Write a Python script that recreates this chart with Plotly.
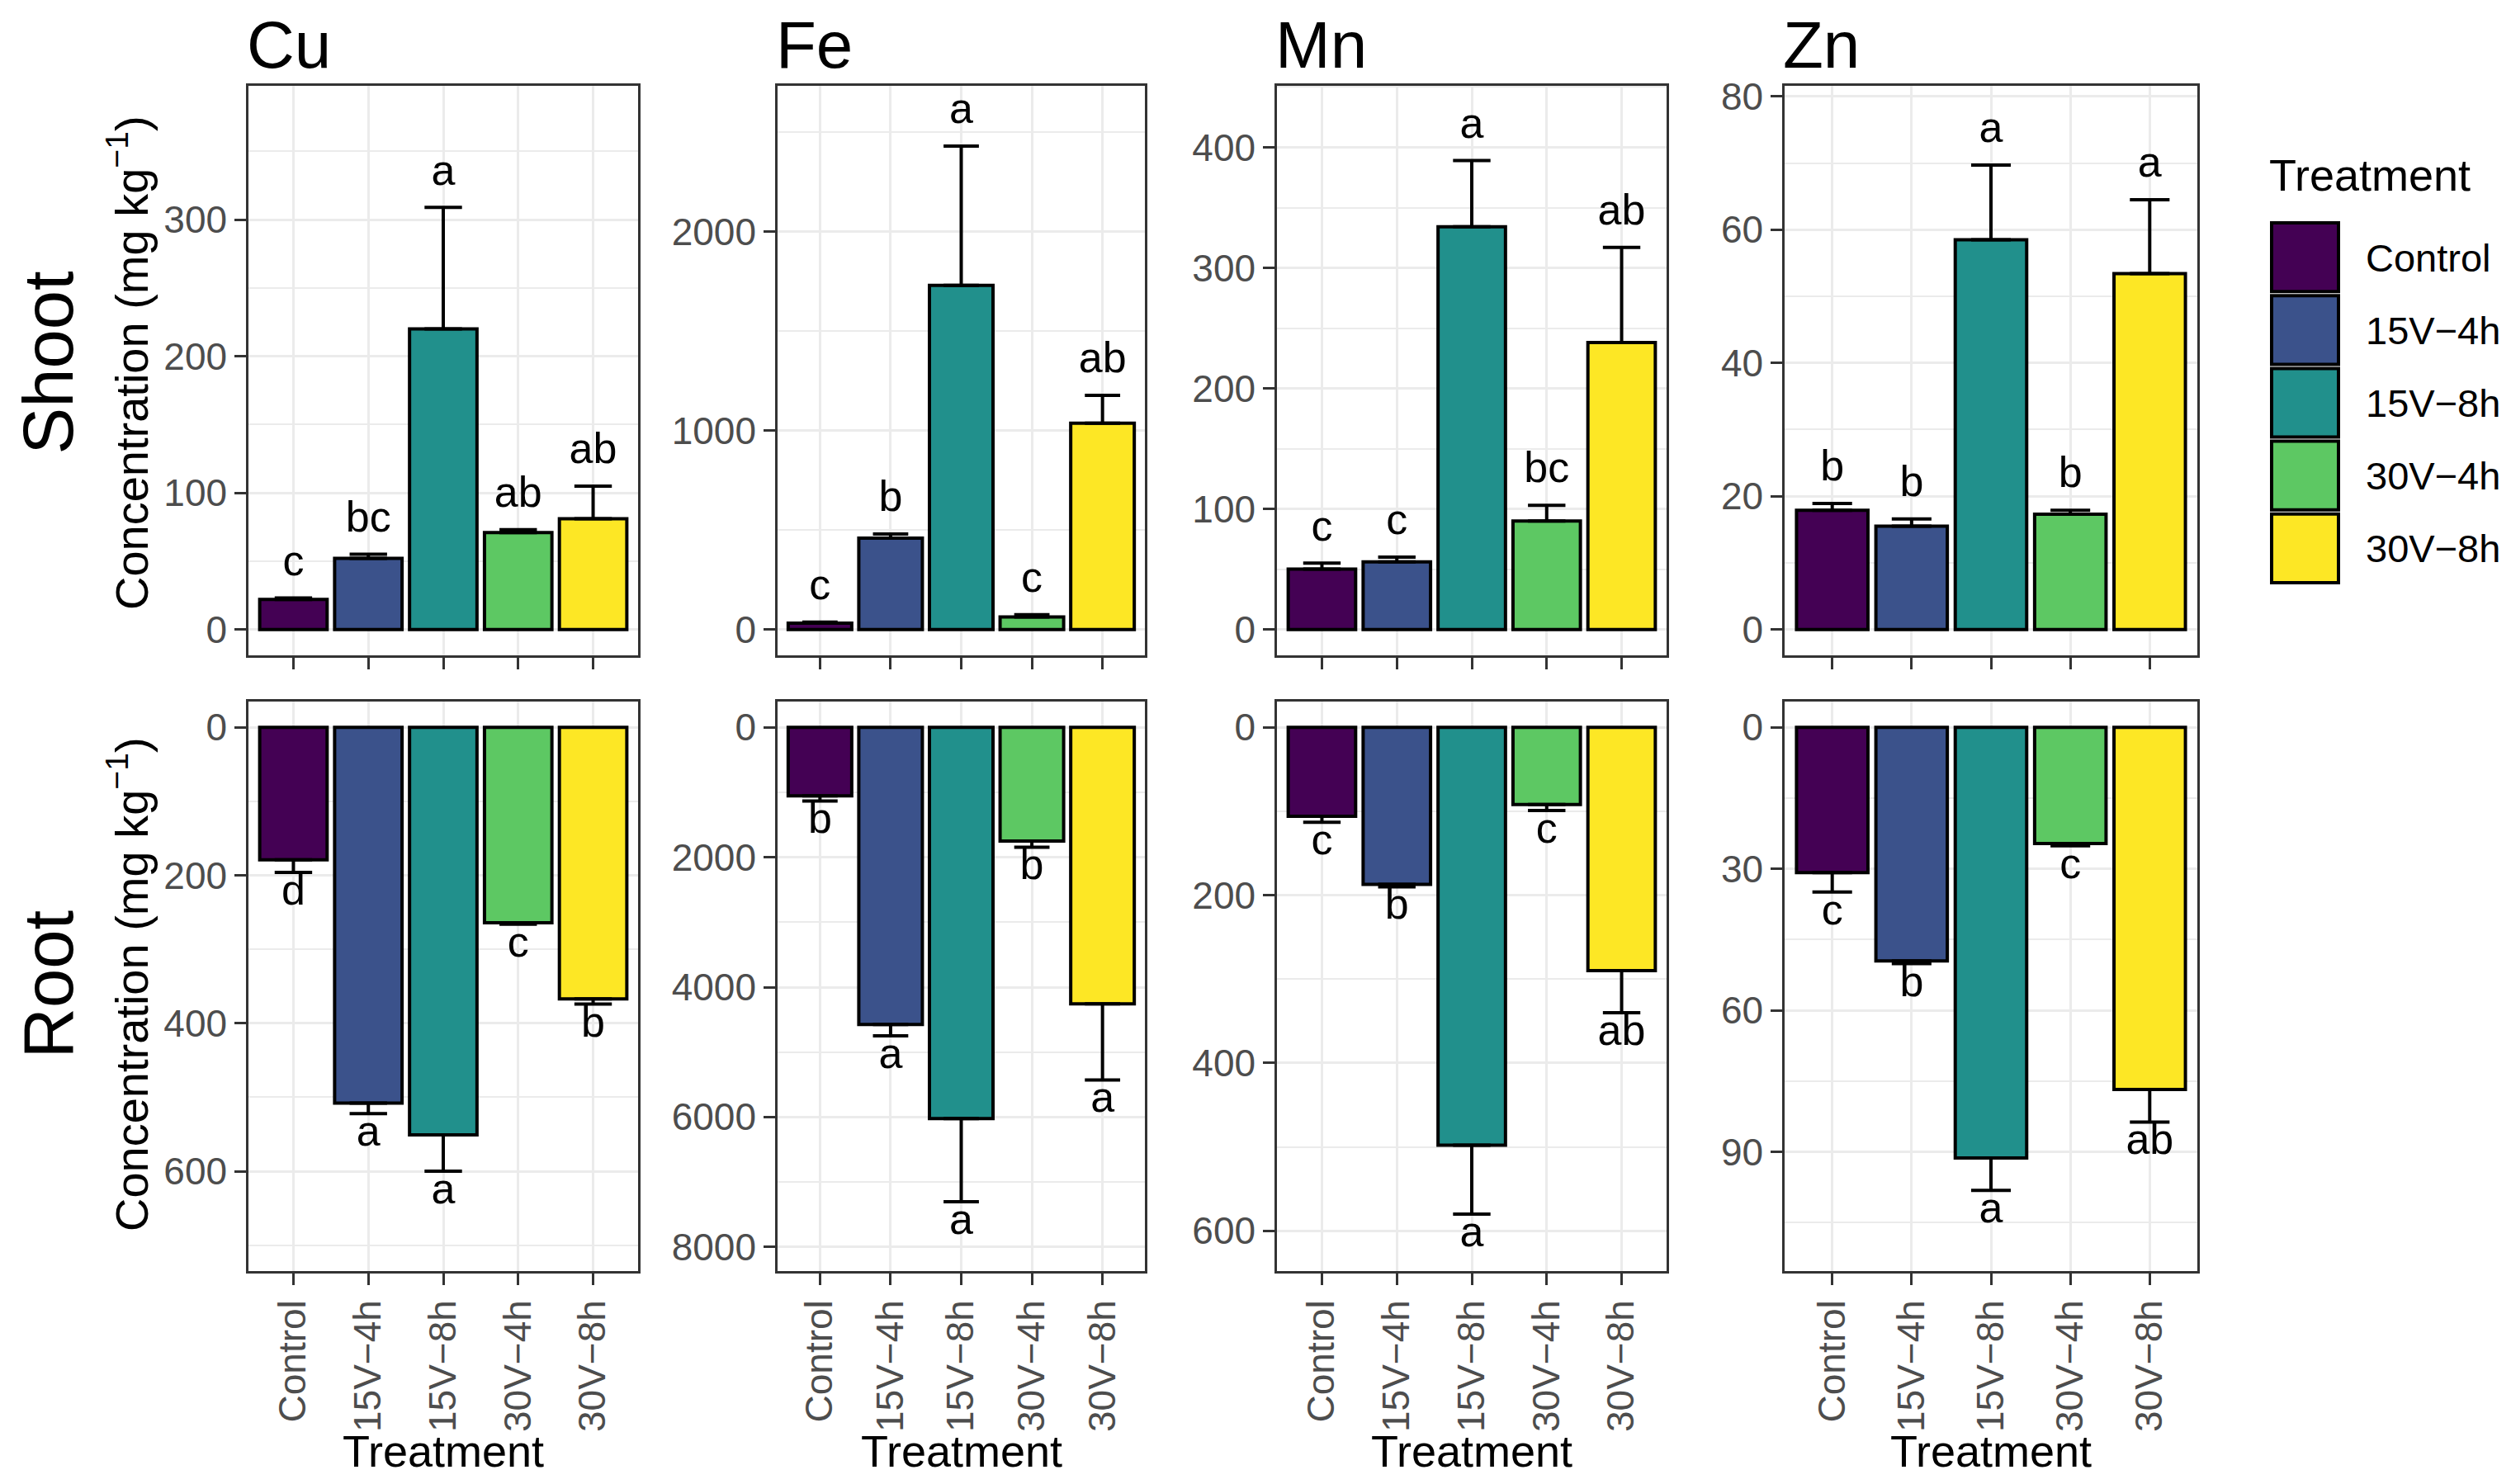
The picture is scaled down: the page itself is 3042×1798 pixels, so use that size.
import plotly.graph_objects as go

# treatments and colours (viridis, 5 levels)
treatments = ["Control", "15V\u22124h", "15V\u22128h", "30V\u22124h", "30V\u22128h"]
colors = ["#440154", "#3B528B", "#21908C", "#5DC863", "#FDE725"]
elements = ["Cu", "Fe", "Mn", "Zn"]

# shoot concentrations (mg kg-1): mean, standard error, significance letters
shoot_cu = [22, 52, 220, 71, 81]
shoot_cu_se = [1, 3, 89, 2, 24]
shoot_cu_let = ["c", "bc", "a", "ab", "ab"]
shoot_fe = [32, 459, 1729, 63, 1037]
shoot_fe_se = [5, 21, 700, 11, 140]
shoot_fe_let = ["c", "b", "a", "c", "ab"]
shoot_mn = [50, 56, 334, 90, 238]
shoot_mn_se = [5, 4, 55, 13, 79]
shoot_mn_let = ["c", "c", "a", "bc", "ab"]
shoot_zn = [17.9, 15.5, 58.5, 17.3, 53.4]
shoot_zn_se = [1.0, 1.1, 11.2, 0.6, 11.1]
shoot_zn_let = ["b", "b", "a", "b", "a"]

# root concentrations (mg kg-1)
root_cu = [179, 508, 551, 264, 367]
root_cu_se = [17, 14, 49, 2, 7]
root_cu_let = ["d", "a", "a", "c", "b"]
root_fe = [1053, 4574, 6023, 1749, 4258]
root_fe_se = [79, 175, 1282, 95, 1171]
root_fe_let = ["b", "a", "a", "b", "a"]
root_mn = [106, 187, 498, 92, 290]
root_mn_se = [7, 3, 82, 7, 50]
root_mn_let = ["c", "b", "a", "c", "ab"]
root_zn = [30.8, 49.5, 91.3, 24.6, 76.8]
root_zn_se = [4.1, 0.6, 6.9, 0.5, 6.9]
root_zn_let = ["c", "b", "a", "c", "ab"]

shoot = [(shoot_cu, shoot_cu_se, shoot_cu_let), (shoot_fe, shoot_fe_se, shoot_fe_let),
         (shoot_mn, shoot_mn_se, shoot_mn_let), (shoot_zn, shoot_zn_se, shoot_zn_let)]
root = [(root_cu, root_cu_se, root_cu_let), (root_fe, root_fe_se, root_fe_let),
        (root_mn, root_mn_se, root_mn_let), (root_zn, root_zn_se, root_zn_let)]

# axis settings per element: upper limit of the axis, tick step
shoot_top = [398, 2732, 451, 81.6]
shoot_dtick = [100, 1000, 100, 20]
root_top = [735, 8373, 648, 115.3]
root_dtick = [200, 2000, 200, 30]

# page is 3042x1798; the html body adds an 8px margin, so the figure is 16px smaller
OFF = 8
FW, FH = 3042 - 2 * OFF, 1798 - 2 * OFF


def px(t):
    return (t - OFF) / FW


def py(t):
    return 1 - (t - OFF) / FH


col_px = [(301, 773), (942, 1387), (1547, 2019), (2162, 2662)]
row_px = [(104, 794), (850, 1540)]

FONT = "Liberation Sans, Arial, sans-serif"
GRID = "#EBEBEB"
DARK = "#333333"

fig = go.Figure()
layout = {}

for r, rowdata in enumerate([shoot, root]):
    for c in range(4):
        k = r * 4 + c + 1
        xa, ya = "x%d" % k, "y%d" % k
        mean, se, let = rowdata[c]
        tip = [m + s for m, s in zip(mean, se)]
        px_w = col_px[c][1] - col_px[c][0]
        fig.add_trace(go.Bar(
            x=treatments, y=mean, width=0.9,
            marker=dict(color=colors, line=dict(color="black", width=4)),
            error_y=dict(type="data", symmetric=False, array=se, arrayminus=[0] * 5,
                         color="black", thickness=4, width=px_w / 5.2 * 0.25),
            xaxis=xa, yaxis=ya, showlegend=False, hoverinfo="skip"))
        if r == 0:
            fig.add_trace(go.Scatter(
                x=treatments, y=tip, text=let, mode="markers+text",
                marker=dict(size=22, opacity=0), textposition="top center",
                textfont=dict(family=FONT, size=52, color="black"),
                cliponaxis=False, xaxis=xa, yaxis=ya, showlegend=False, hoverinfo="skip"))
        else:
            fig.add_trace(go.Scatter(
                x=treatments, y=tip, text=let, mode="text", textposition="bottom center",
                textfont=dict(family=FONT, size=52, color="black"),
                cliponaxis=False, xaxis=xa, yaxis=ya, showlegend=False, hoverinfo="skip"))

        top = shoot_top[c] if r == 0 else root_top[c]
        dt = shoot_dtick[c] if r == 0 else root_dtick[c]
        yr = [-top / 1.05 * 0.05, top] if r == 0 else [top, -top / 1.05 * 0.05]
        x0, x1 = col_px[c]
        y0, y1 = row_px[r]
        layout["xaxis%d" % k] = dict(
            domain=[px(x0), px(x1)], anchor=ya, type="category",
            range=[-0.6, 4.6], showgrid=True, gridcolor=GRID, gridwidth=3,
            showline=True, mirror=True, linecolor=DARK, linewidth=2.5,
            ticks="outside", ticklen=14, tickwidth=2.5, tickcolor=DARK,
            showticklabels=(r == 1), tickangle=-90, automargin=False,
            tickfont=dict(family=FONT, size=46, color="#4D4D4D"), zeroline=False)
        layout["yaxis%d" % k] = dict(
            domain=[py(y1), py(y0)], anchor=xa, range=yr,
            dtick=dt, tick0=0, showgrid=True, gridcolor=GRID, gridwidth=3,
            minor=dict(dtick=dt / 2, tick0=0, showgrid=True, gridcolor=GRID, gridwidth=1.5),
            showline=True, mirror=True, linecolor=DARK, linewidth=2.5,
            ticks="outside", ticklen=14, tickwidth=2.5, tickcolor=DARK, automargin=False,
            tickfont=dict(family=FONT, size=46, color="#4D4D4D"), zeroline=False)

annotations = []
# element titles (top edge) and x titles (bottom edge)
for c, el in enumerate(elements):
    annotations.append(dict(text=el, x=px(col_px[c][0] - 4), y=1, xref="paper", yref="paper",
                            xanchor="left", yanchor="top", showarrow=False,
                            font=dict(family=FONT, size=80, color="black")))
    annotations.append(dict(text="Treatment", x=px((col_px[c][0] + col_px[c][1]) / 2), y=0,
                            xref="paper", yref="paper", xanchor="center", yanchor="bottom",
                            showarrow=False, font=dict(family=FONT, size=54, color="black")))
# row labels and y titles
row_mid = [440, 1193]
for r, name in enumerate(["Shoot", "Root"]):
    yc = py(row_mid[r])
    annotations.append(dict(text=name, x=0, y=yc, xref="paper", yref="paper", textangle=-90,
                            xanchor="left", yanchor="middle", showarrow=False,
                            font=dict(family=FONT, size=85, color="black")))
    annotations.append(dict(text="Concentration (mg kg<sup>\u22121</sup>)", x=px(155), y=yc,
                            xref="paper", yref="paper", textangle=-90, xanchor="center",
                            yanchor="middle", showarrow=False,
                            font=dict(family=FONT, size=56, color="black")))

# legend drawn by hand (ggplot-sized keys)
shapes = []
annotations.append(dict(text="Treatment", x=px(2747), y=py(212), xref="paper", yref="paper",
                        xanchor="left", yanchor="middle", showarrow=False,
                        font=dict(family=FONT, size=54, color="black")))
key_h = 88.2
for i, (t, col) in enumerate(zip(treatments, colors)):
    top = 268 + i * key_h
    shapes.append(dict(type="rect", xref="paper", yref="paper",
                       x0=px(2752), x1=px(2833), y0=py(top + key_h - 3), y1=py(top + 2),
                       fillcolor=col, line=dict(color="black", width=4)))
    annotations.append(dict(text=t, x=px(2864), y=py(top + key_h / 2), xref="paper", yref="paper",
                            xanchor="left", yanchor="middle", showarrow=False,
                            font=dict(family=FONT, size=47, color="black")))

fig.update_layout(
    width=FW, height=FH, margin=dict(l=0, r=0, t=0, b=0),
    paper_bgcolor="white", plot_bgcolor="white",
    font=dict(family=FONT), bargap=0.1,
    annotations=annotations, shapes=shapes, **layout)

fig.write_html("out.html")
